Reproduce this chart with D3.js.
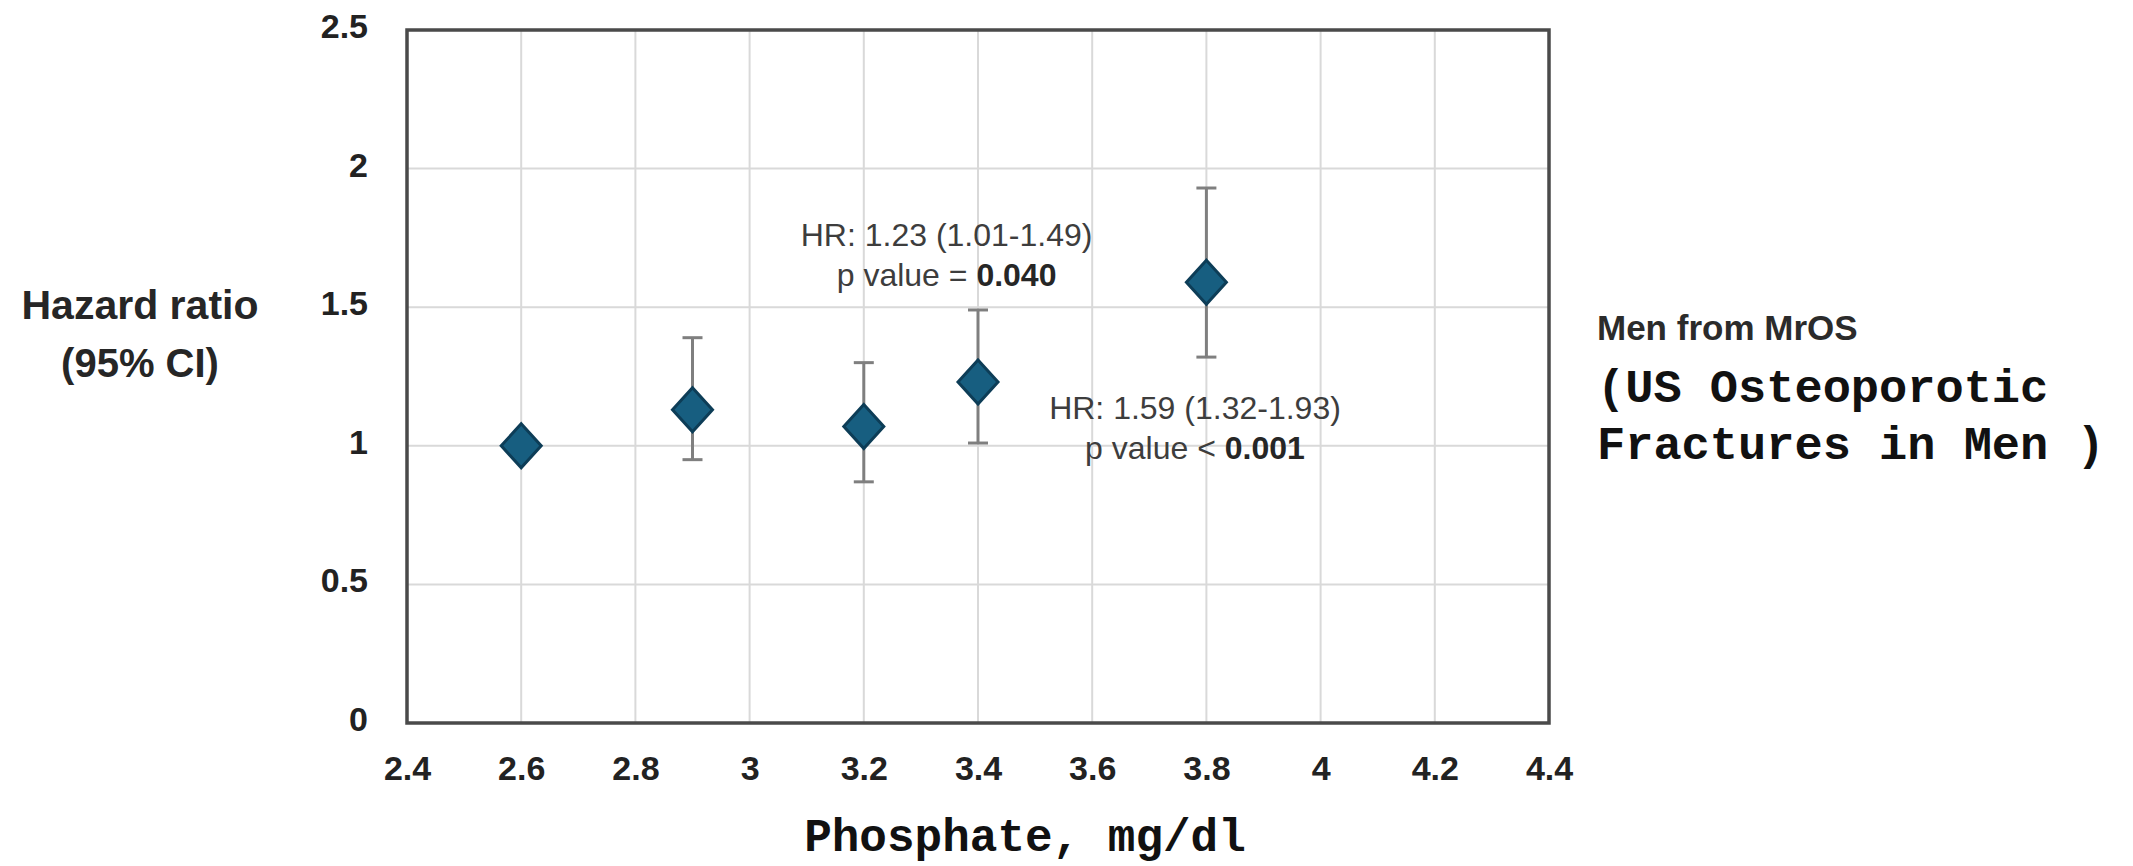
<!DOCTYPE html>
<html>
<head>
<meta charset="utf-8">
<script src="https://cdn.jsdelivr.net/npm/d3@7"></script>
<style>
  html, body { margin: 0; padding: 0; background: #fff; }
  #chart { width: 2133px; height: 866px; }
</style>
</head>
<body>
<div id="chart"></div>
<script>
// data
let phosphate = [2.6, 2.9, 3.2, 3.4, 3.8];
let hazard = [1.0, 1.13, 1.07, 1.23, 1.59];
let ciLow = [null, 0.95, 0.87, 1.01, 1.32];
let ciHigh = [null, 1.39, 1.30, 1.49, 1.93];

let xTicks = [2.4, 2.6, 2.8, 3, 3.2, 3.4, 3.6, 3.8, 4, 4.2, 4.4];
let yTicks = [0, 0.5, 1, 1.5, 2, 2.5];

// annotation text, anchored in data units
let noteX = [3.345, 3.78];
let noteY = [1.72, 1.095];
let noteLine1 = ["HR: 1.23 (1.01-1.49)", "HR: 1.59 (1.32-1.93)"];
let notePrefix = ["p value = ", "p value < "];
let noteValue = ["0.040", "0.001"];

let sideTitle = "Men from MrOS";
let sideLines = ["(US Osteoporotic", "Fractures in Men )"];

let W = 2133, H = 866;
let plotL = 407, plotR = 1549, plotT = 30, plotB = 723;

let svg = d3.select("#chart").append("svg")
    .attr("width", W)
    .attr("height", H);

let x = d3.scaleLinear().domain([2.4, 4.4]).range([plotL, plotR]);
let y = d3.scaleLinear().domain([0, 2.5]).range([plotB, plotT]);

// grid lines
svg.append("g")
    .selectAll("line")
    .data(xTicks)
    .enter().append("line")
    .attr("x1", d => x(d)).attr("x2", d => x(d))
    .attr("y1", plotT).attr("y2", plotB)
    .attr("stroke", "#d9d9d9")
    .attr("stroke-width", 2);

svg.append("g")
    .selectAll("line")
    .data(yTicks)
    .enter().append("line")
    .attr("x1", plotL).attr("x2", plotR)
    .attr("y1", d => y(d)).attr("y2", d => y(d))
    .attr("stroke", "#d9d9d9")
    .attr("stroke-width", 2);

// frame
svg.append("rect")
    .attr("x", plotL).attr("y", plotT)
    .attr("width", plotR - plotL).attr("height", plotB - plotT)
    .attr("fill", "none")
    .attr("stroke", "#4a4a4a")
    .attr("stroke-width", 3.5);

// axes (labels only)
let xAxis = svg.append("g")
    .attr("transform", `translate(0,${plotB})`)
    .call(d3.axisBottom(x).tickValues(xTicks).tickSize(0).tickPadding(33).tickFormat(d3.format("")));
xAxis.select(".domain").remove();
xAxis.selectAll("text")
    .attr("font-family", "Liberation Sans, Arial, sans-serif")
    .attr("font-weight", "bold")
    .attr("font-size", 34)
    .attr("fill", "#222");

let yAxis = svg.append("g")
    .attr("transform", `translate(${plotL},0)`)
    .call(d3.axisLeft(y).tickValues(yTicks).tickSize(0).tickPadding(39).tickFormat(d3.format("")));
yAxis.select(".domain").remove();
yAxis.selectAll("text")
    .attr("font-family", "Liberation Sans, Arial, sans-serif")
    .attr("font-weight", "bold")
    .attr("font-size", 34)
    .attr("fill", "#222")
    .attr("dy", "0.22em");

// error bars
let bars = svg.append("g");
phosphate.forEach((p, i) => {
    if (ciLow[i] == null) return;
    bars.append("line")
        .attr("x1", x(p)).attr("x2", x(p))
        .attr("y1", y(ciLow[i])).attr("y2", y(ciHigh[i]))
        .attr("stroke", "#7f7f7f").attr("stroke-width", 3);
    [ciLow[i], ciHigh[i]].forEach(v => {
        bars.append("line")
            .attr("x1", x(p) - 10).attr("x2", x(p) + 10)
            .attr("y1", y(v)).attr("y2", y(v))
            .attr("stroke", "#7f7f7f").attr("stroke-width", 3);
    });
});

// diamonds
svg.append("g")
    .selectAll("path")
    .data(phosphate)
    .enter().append("path")
    .attr("d", (d, i) => {
        let cx = x(d), cy = y(hazard[i]);
        return `M${cx},${cy - 22}L${cx + 20},${cy}L${cx},${cy + 22}L${cx - 20},${cy}Z`;
    })
    .attr("fill", "#175e80")
    .attr("stroke", "#0d3d57")
    .attr("stroke-width", 3);

// annotations
noteX.forEach((nx, i) => {
    let t = svg.append("text")
        .attr("x", x(nx))
        .attr("y", y(noteY[i]))
        .attr("text-anchor", "middle")
        .attr("font-family", "Liberation Sans, Arial, sans-serif")
        .attr("font-size", 32)
        .attr("fill", "#3d3d3d");
    t.append("tspan").text(noteLine1[i]);
    let t2 = svg.append("text")
        .attr("x", x(nx))
        .attr("y", y(noteY[i]) + 40)
        .attr("text-anchor", "middle")
        .attr("font-family", "Liberation Sans, Arial, sans-serif")
        .attr("font-size", 32)
        .attr("fill", "#3d3d3d");
    t2.append("tspan").text(notePrefix[i]);
    t2.append("tspan").attr("font-weight", "bold").attr("fill", "#262626").text(noteValue[i]);
});

// y title
svg.append("text")
    .attr("x", 140).attr("y", 319)
    .attr("text-anchor", "middle")
    .attr("font-family", "Liberation Sans, Arial, sans-serif")
    .attr("font-weight", "bold")
    .attr("font-size", 41)
    .attr("fill", "#262626")
    .text("Hazard ratio");
svg.append("text")
    .attr("x", 140).attr("y", 377)
    .attr("text-anchor", "middle")
    .attr("font-family", "Liberation Sans, Arial, sans-serif")
    .attr("font-weight", "bold")
    .attr("font-size", 40)
    .attr("fill", "#262626")
    .text("(95% CI)");

// x title
svg.append("text")
    .attr("x", 1025).attr("y", 851)
    .attr("text-anchor", "middle")
    .attr("font-family", "Liberation Mono, Courier New, monospace")
    .attr("font-weight", "bold")
    .attr("font-size", 46)
    .attr("fill", "#111")
    .text("Phosphate, mg/dl");

// side label
svg.append("text")
    .attr("x", 1597).attr("y", 340)
    .attr("font-family", "Liberation Sans, Arial, sans-serif")
    .attr("font-weight", "bold")
    .attr("font-size", 35)
    .attr("fill", "#2b2b2b")
    .text(sideTitle);
svg.selectAll(".side")
    .data(sideLines)
    .enter().append("text")
    .attr("class", "side")
    .attr("x", 1597)
    .attr("y", (d, i) => 402 + i * 57)
    .attr("font-family", "Liberation Mono, Courier New, monospace")
    .attr("font-weight", "bold")
    .attr("font-size", 47)
    .attr("fill", "#111")
    .style("white-space", "pre")
    .text(d => d);
</script>
</body>
</html>
